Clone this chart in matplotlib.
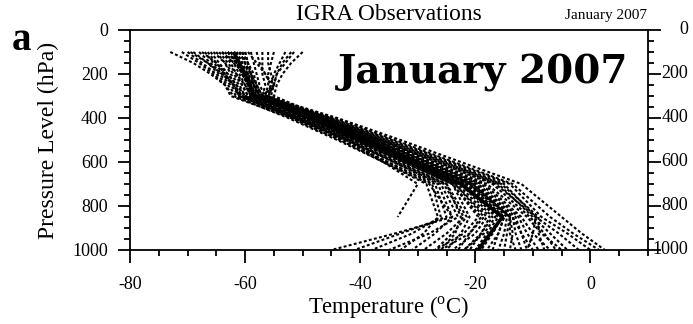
# IGRA 探空温度廓线 (January 2007)
import numpy as np
import matplotlib.pyplot as plt
import matplotlib.transforms as mtransforms
from matplotlib.ticker import MultipleLocator

plt.rcParams['font.family'] = ['Liberation Serif', 'DejaVu Serif']
plt.rcParams['mathtext.fontset'] = 'custom'
plt.rcParams['mathtext.rm'] = 'Liberation Serif'
plt.rcParams['axes.unicode_minus'] = False

levels = [100, 150, 200, 250, 300, 400, 500, 700, 850, 925, 1000]
yticks = [0, 200, 400, 600, 800, 1000]
nan = np.nan

# 站点廓线 (°C)，各列对应 levels
profiles = [
    # 近地面逆温、偏冷
    [-73, -69, -66, -63.5, -62, -52.5, -44, -28, -24, -34, -45],
    [-71, -68, -65.5, -63.5, -62.5, -52, -43.5, -27, -25, -33, -41],
    [-70, -67.5, -65, -63, -61.5, -51.5, -43, -27.5, -26, -31, -38],
    [-69, -66.5, -64.5, -62.5, -61, -51, -42.5, -26, -23, -28, -35],
    [-68, -66, -64, -62, -60.5, -52, -43.5, -28.5, -26.5, -29, -33],
    [-67, -65.5, -63.5, -62, -60.5, -51, -42, -26.5, -24, -27, -31],
    [-66, -64.5, -63, -61.5, -60, -50.5, -42, -25.5, -22, -25, -29],
    [-69.5, -66.5, -64, -62, -61, -51.5, -42.5, -25, -21.5, -24, -27],
    [-65, -63.5, -62.5, -61, -60, -50, -41.5, -25, -22.5, -23.5, -26],
    [-67.5, -65, -63, -61.5, -60, -50.5, -41, -24, -21, -22.5, -25],
    [-66.5, -65, -63.5, -62, -61, -51, -42, -30, -33.5, nan, nan],
    # 中间
    [-64, -62.5, -61.5, -60.5, -59.5, -50, -41, -24, -19, -21, -23],
    [-63, -61.5, -60.5, -59.5, -58.5, -49.5, -40.5, -23, -17.5, -19, -21],
    [-62.5, -61.5, -60.5, -59.5, -59, -49, -40, -22.5, -16, -18, -20],
    [-61.5, -60.5, -60, -59, -58.5, -48.5, -39.5, -22, -15.5, -17, -19],
    [-64.5, -63, -61.5, -60, -59, -49, -39.5, -21.5, -15, -16, -18],
    [-63.5, -62, -61, -60, -59, -48.5, -39, -21, -14.5, -15, -16],
    [-62, -61, -60, -59, -58, -48, -38.5, -21, -14, -14.5, -15],
    [-65.5, -63.5, -62, -60.5, -59.5, -49.5, -40, -23.5, -18, -20, -24],
    [-60.5, -60, -59.5, -59, -58.5, -48.5, -39, -22, -16.5, -18.5, -22],
    [-61, -60, -59, -58.5, -58, -47.5, -38, -20, -13.5, -13, -12],
    [-62, -61, -60, -59, -58.5, -47, -37.5, -19.5, -13, -12, -10],
    [-63, -61.5, -60.5, -59.5, -59, -48, -38.5, -20.5, -14, -14, -13],
    [-60, -59.5, -59, -58.5, -57.5, -47, -37.5, -19, -12.5, -11, -9],
    # 偏暖
    [-62.5, -61, -60, -59, -58, -46.5, -36.5, -17, -10.5, -8, -6],
    [-61.5, -60.5, -59.5, -58.5, -57.5, -46, -36, -16, -10, -7, -4],
    [-63, -61.5, -60, -58.5, -57.5, -45.5, -35, -15, -9.5, -5.5, -2],
    [-60, -59.5, -59, -58, -57, -45, -34.5, -14, -8.5, -4, 0],
    [-64, -62, -60, -58.5, -57, -44.5, -34, -13.5, -7, -3, 1.5],
    [-59, -58.5, -58, -57.5, -56.5, -44, -33, -12, -5, -1.5, 2.5],
    [-61, -60, -59, -58, -57, -45.5, -35.5, -15.5, -9, -9, -8],
    [-60.5, -59.5, -58.5, -58, -57.5, -46.5, -36.5, -16.5, -9.5, -10, -11],
    # 上层 V 形
    [-57, -57, -57, -56.5, -57, -48, -39, -21.5, -15, -16, -17],
    [-55, -55.5, -56, -56, -56.5, -47.5, -38.5, -20.5, -14, -13.5, -14],
    [-53, -54, -55, -55.5, -56, -47, -38, -20, -13.5, -12, -11],
    [-51.5, -53, -54.5, -55, -55.5, -46.5, -37, -18.5, -12, -10, -7],
    [-50, -52, -53.5, -54.5, -55, -46, -36.5, -18, -11, -8.5, -5],
    [-58, -57.5, -56.5, -55.5, -56.5, -48.5, -40, -23.5, -18.5, -21, -26],
    [-59.5, -58, -56.5, -55, -56, -47.5, -38.5, -21, -15.5, -17, -20],
    [-52, -53.5, -54.5, -55, -57, -49, -40.5, -24, -19.5, -22, -27],
    [-56, -56, -55.5, -55, -56, -48, -39, -22.5, -17, -19, -22],
]
mean_profile = [-62, -61, -60, -59.2, -58.5, -49, -40, -22.5, -15.3, -17.4, -19.5]

fig = plt.figure(figsize=(6.93, 3.24), dpi=100)
ax = fig.add_axes([130/693, 1-250/324, 518/693, 220/324])

for t in profiles:
    ax.plot(t, levels, color='black', lw=1.5, ls=(0, (1.4, 1.1)))
ax.plot(mean_profile, levels, color='black', lw=2.6, solid_capstyle='butt')

ax.set_xlim(-80, 10)
ax.set_ylim(1000, 0)
ax.xaxis.set_major_locator(MultipleLocator(20))
ax.xaxis.set_minor_locator(MultipleLocator(5))
ax.set_yticks(yticks)
ax.yaxis.set_minor_locator(MultipleLocator(50))
ax.tick_params(which='both', direction='out', width=1.3, labelsize=13,
               top=False, right=True)
ax.tick_params(which='major', length=9)
ax.tick_params(which='minor', length=4.5)
ax.tick_params(axis='y', which='major', pad=7)
ax.tick_params(axis='x', which='major', pad=10)
for sp in ax.spines.values():
    sp.set_linewidth(1.3)

# 右侧刻度标签：右对齐，被图边裁掉一部分
right_lab = mtransforms.offset_copy(
    mtransforms.blended_transform_factory(ax.transAxes, ax.transData),
    fig=fig, x=40, y=0, units='dots')
for v in yticks:
    ax.text(1, v, str(v), transform=right_lab, ha='right', va='center',
            fontsize=13, clip_on=False)

ax.set_xlabel(r'Temperature ($^{\rm o}$C)', fontsize=16.3, labelpad=1)
ax.set_ylabel('Pressure Level (hPa)', fontsize=17, labelpad=9)

fig.text(389/693, 1-14/324, 'IGRA Observations', ha='center', va='center', fontsize=16.8)
fig.text(647/693, 1-15/324, 'January 2007', ha='right', va='center', fontsize=11)
fig.text(12/693, 1-41/324, 'a', ha='left', va='center', fontsize=28, fontweight='bold')
fig.text(628/693, 1-83/324, 'January 2007', ha='right', va='baseline',
         fontsize=28, fontweight='bold', family='DejaVu Serif')

fig.savefig('out.png', dpi=100)
